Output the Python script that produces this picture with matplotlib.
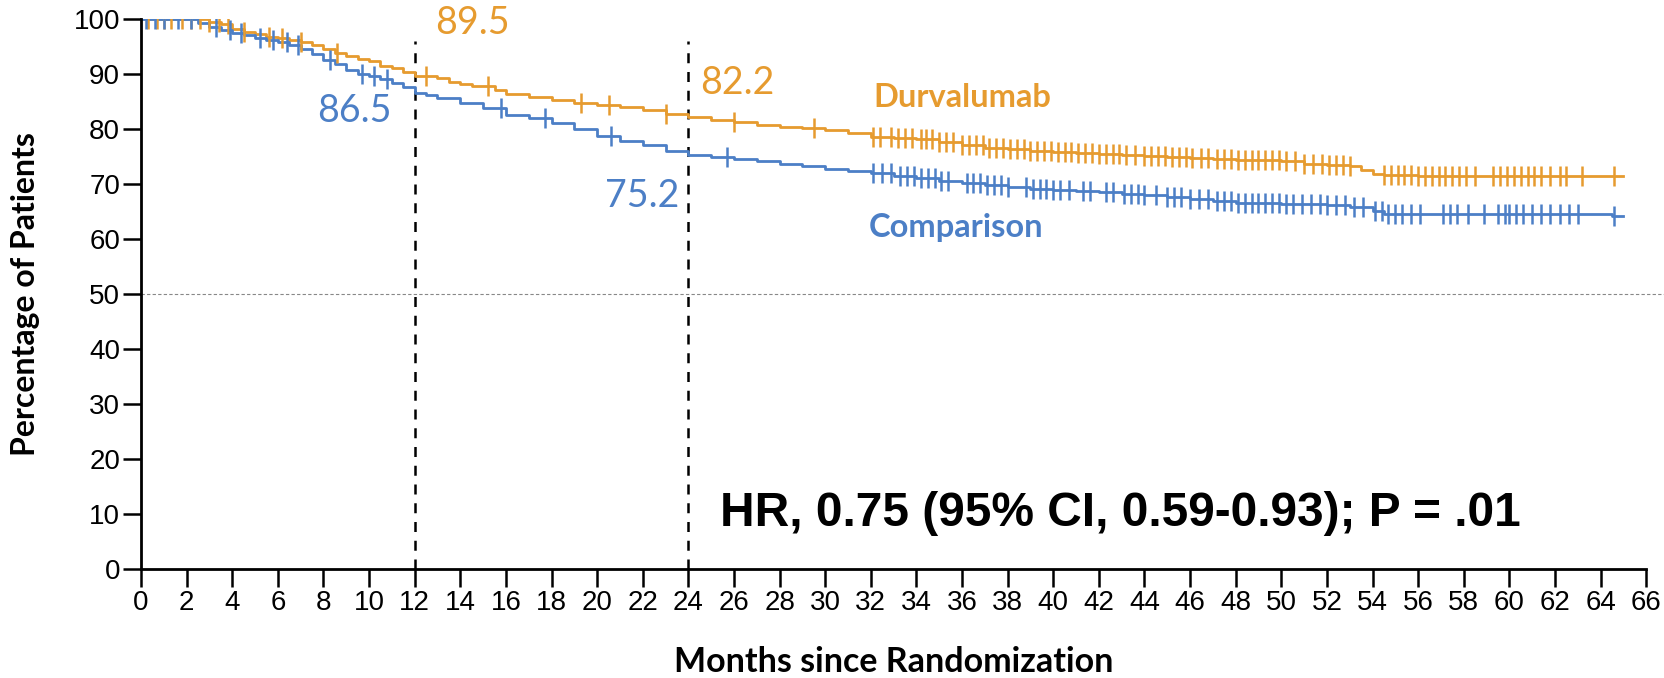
import numpy as np
import matplotlib
matplotlib.use("Agg")
import matplotlib.pyplot as plt

# Kaplan-Meier steps (months, % of patients)
durva_t = [0, 3, 3.5, 4, 4.5, 5, 5.5, 6, 6.5, 7, 7.5, 8, 8.5, 9, 9.5, 10, 10.5, 11, 11.5, 12,
           13, 13.5, 14, 14.5, 15.5, 16, 17, 18, 19, 20, 21, 22, 23, 24, 25, 26, 27, 28, 29, 30,
           31, 32, 33, 34, 35, 36, 37, 38, 39, 40, 41, 42, 43, 44, 45, 46, 47, 48, 49, 50,
           51, 52, 53, 53.5, 54, 54.5, 56, 65]
durva_s = [100, 99.5, 99, 98.2, 97.6, 97.2, 96.8, 96.5, 96.2, 95.8, 95.2, 94.5, 93.8, 93.2, 92.8, 92.3, 91.5, 91, 90.3, 89.6,
           89.2, 88.5, 88.2, 87.8, 87, 86.4, 85.8, 85.3, 84.8, 84.3, 84, 83.4, 82.8, 82.2, 81.7, 81.2, 80.7, 80.4, 80.1, 79.8,
           79.3, 78.6, 78.4, 78.1, 77.6, 77, 76.6, 76.3, 76, 75.8, 75.6, 75.4, 75.2, 75, 74.9, 74.8, 74.6, 74.4, 74.3, 74.1,
           73.7, 73.5, 73.2, 72.5, 71.8, 71.6, 71.5, 71.5]

comp_t = [0, 2.5, 3, 3.5, 4, 4.5, 5, 5.5, 6, 6.5, 7, 7.5, 8, 8.5, 9, 9.5, 10, 10.5, 11, 11.5,
          12, 12.5, 13, 14, 15, 16, 17, 18, 19, 20, 21, 22, 23, 24, 25, 26, 27, 28, 29, 30,
          31, 32, 33, 34, 35, 36, 37, 38, 39, 40, 41, 42, 43, 44, 45, 46, 47, 48, 50, 52,
          53, 54, 54.5, 64, 64.5, 65]
comp_s = [100, 99.2, 98.6, 98, 97.5, 97, 96.6, 96.2, 95.8, 95.2, 94.6, 93.6, 92.6, 91.8, 90.8, 90, 89.6, 89, 88.3, 87.6,
          86.6, 86.2, 85.6, 84.8, 83.8, 82.6, 82, 81, 80, 78.8, 77.8, 77, 76, 75.2, 74.9, 74.6, 74.2, 73.6, 73.2, 72.8,
          72.4, 71.9, 71.5, 71, 70.6, 70.2, 69.8, 69.4, 69.1, 68.9, 68.7, 68.5, 68.2, 68, 67.6, 67.3, 66.9, 66.5, 66.4, 66.2,
          65.8, 65, 64.5, 64.5, 64.2, 64.2]

# censoring times (months)
durva_cens = [0.3, 0.7, 1.0, 1.3, 1.8, 2.2, 2.6, 3.0, 3.4, 3.8, 4.5, 5.6, 6.2, 7.0, 8.6, 12.5, 15.2, 19.3,
              20.5, 23.0, 26.0, 29.5, 32.1, 32.4, 32.9, 33.2, 33.5, 33.8, 34.2, 34.4, 34.7, 35.0, 35.3, 35.6,
              36.0, 36.3, 36.6, 36.9, 37.2, 37.5, 37.8, 38.1, 38.4, 38.7, 39.0, 39.3, 39.6, 39.9, 40.2, 40.5,
              40.8, 41.1, 41.4, 41.7, 42.0, 42.3, 42.6, 42.9, 43.2, 43.6, 44.0, 44.3, 44.6, 44.9, 45.2, 45.5,
              45.8, 46.1, 46.5, 46.8, 47.2, 47.5, 47.8, 48.1, 48.4, 48.7, 49.0, 49.3, 49.6, 49.9, 50.2, 50.6,
              51.0, 51.4, 51.8, 52.1, 52.4, 52.7, 53.0, 54.5, 54.8, 55.1, 55.4, 55.7, 56.0, 56.3, 56.6, 56.9,
              57.2, 57.5, 57.8, 58.1, 58.5, 59.3, 59.6, 59.9, 60.2, 60.5, 60.8, 61.1, 61.4, 61.8, 62.2, 62.5,
              63.2, 64.6]
comp_cens = [0.2, 0.6, 1.0, 1.6, 2.2, 3.3, 3.9, 4.4, 5.2, 5.8, 6.4, 6.9, 8.3, 9.7, 10.2, 10.8, 15.8, 17.7,
             20.6, 25.7, 32.1, 32.5, 32.9, 33.3, 33.6, 33.9, 34.2, 34.5, 34.8, 35.1, 35.4, 36.2, 36.5, 36.8,
             37.1, 37.4, 37.7, 38.0, 38.8, 39.1, 39.4, 39.7, 40.0, 40.3, 40.7, 41.3, 41.6, 42.3, 42.6, 43.1,
             43.4, 43.7, 44.0, 44.5, 45.0, 45.3, 45.6, 46.0, 46.4, 46.8, 47.2, 47.5, 47.8, 48.1, 48.4, 48.7,
             49.0, 49.3, 49.6, 49.9, 50.2, 50.5, 50.9, 51.3, 51.7, 52.0, 52.4, 52.8, 53.2, 53.6, 54.1, 54.4,
             54.7, 55.0, 55.3, 55.7, 56.1, 57.1, 57.4, 57.7, 58.2, 58.9, 59.5, 59.8, 60.0, 60.3, 60.6, 61.0,
             61.4, 61.8, 62.2, 62.6, 63.0, 64.6]

landmarks = [12, 24]
durva_lm = ["89.5", "82.2"]
comp_lm = ["86.5", "75.2"]
hr_text = "HR, 0.75 (95% CI, 0.59-0.93); P = .01"

orange = "#E69B2F"
blue = "#4C7FC6"


def step_at(t, times, surv):
    idx = np.searchsorted(times, t, side="right") - 1
    return np.asarray(surv)[idx]


fig = plt.figure(figsize=(16.65, 6.78), dpi=100)
ax = fig.add_axes([0.0847, 0.161, 0.904, 0.811])

ax.plot(durva_t, durva_s, drawstyle="steps-post", color=orange, lw=2)
ax.plot(comp_t, comp_s, drawstyle="steps-post", color=blue, lw=2)
ax.plot(durva_cens, step_at(durva_cens, durva_t, durva_s), ls="none", marker="|",
        ms=15, mew=1.8, color=orange)
ax.plot(comp_cens, step_at(comp_cens, comp_t, comp_s), ls="none", marker="|",
        ms=15, mew=1.8, color=blue)

# reference lines
ax.plot([0, 70], [50, 50], ls=(0, (3, 2)), color="#888888", lw=0.8, clip_on=False, zorder=0)
for m in landmarks:
    ax.plot([m, m], [0, 96], ls=(0, (4, 3.5)), color="black", lw=1.8, zorder=1)

# landmark values
ax.text(12.9, 99.2, durva_lm[0], color=orange, fontsize=27, family="Lato", va="center")
ax.text(24.5, 88.3, durva_lm[1], color=orange, fontsize=27, family="Lato", va="center")
ax.text(11.0, 83.2, comp_lm[0], color=blue, fontsize=27, family="Lato", va="center", ha="right")
ax.text(23.6, 67.8, comp_lm[1], color=blue, fontsize=27, family="Lato", va="center", ha="right")

ax.text(32.1, 85.7, "Durvalumab", color=orange, fontsize=23.5, family="Lato", weight="bold", va="center")
ax.text(31.9, 62.0, "Comparison", color=blue, fontsize=23.5, family="Lato", weight="bold", va="center")

ax.text(25.4, 10, hr_text, fontsize=34.5, family="Liberation Sans", weight="bold", va="center")

ax.set_xlim(0, 66)
ax.set_ylim(0, 100)
ax.set_xticks(range(0, 67, 2))
ax.set_yticks(range(0, 101, 10))
ax.tick_params(direction="out", length=13, width=1.8, colors="black", pad=2, labelsize=20)
for lab in ax.get_xticklabels() + ax.get_yticklabels():
    lab.set_family("Liberation Sans")
for s in ["top", "right"]:
    ax.spines[s].set_visible(False)
for s in ["left", "bottom"]:
    ax.spines[s].set_linewidth(2)

ax.set_xlabel("Months since Randomization", fontsize=24.5, family="Lato", weight="bold", labelpad=22)
ax.set_ylabel("Percentage of Patients", fontsize=23, family="Lato", weight="bold", labelpad=24)

fig.savefig("out.png", dpi=100)
